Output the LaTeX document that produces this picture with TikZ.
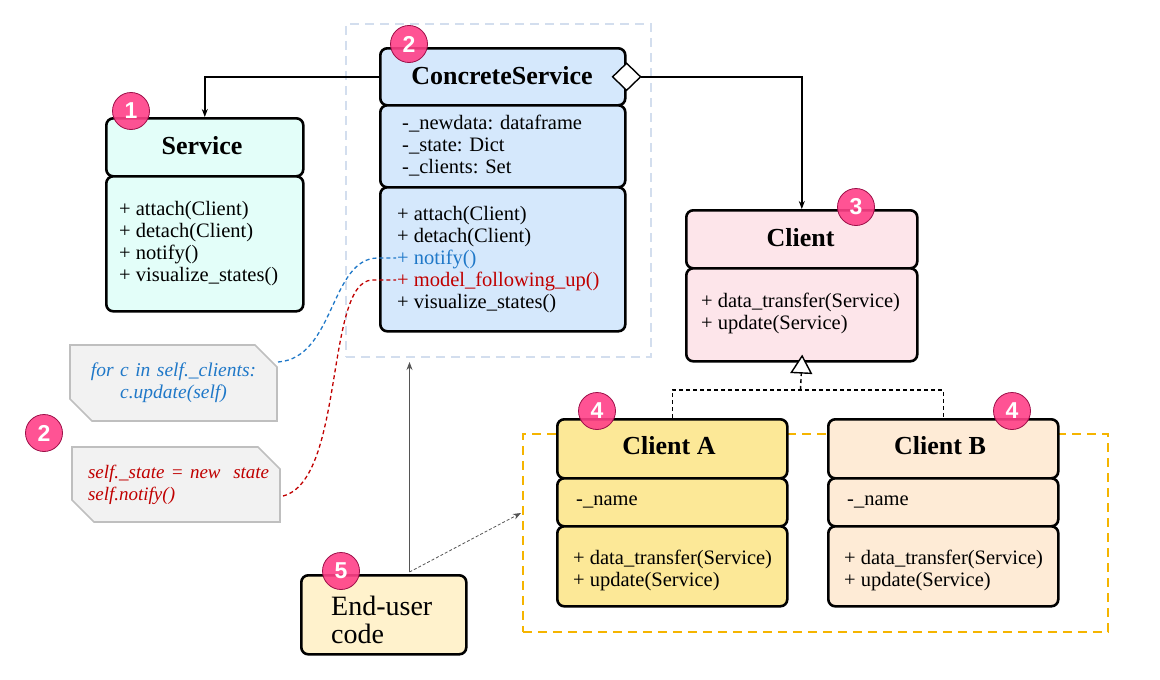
\documentclass[tikz,border=0pt]{standalone}
\usepackage{fontspec}
\setmainfont{Liberation Serif}
\newfontfamily\badgefont{Liberation Sans}
\usetikzlibrary{arrows.meta,shapes.misc,shapes.geometric,calc}

\definecolor{svcfill}{HTML}{E3FEF9}
\definecolor{csfill}{HTML}{D5E8FC}
\definecolor{clfill}{HTML}{FDE5EA}
\definecolor{cafill}{HTML}{FCE897}
\definecolor{cbfill}{HTML}{FEEBD6}
\definecolor{eufill}{HTML}{FFF2CC}
\definecolor{notefill}{HTML}{F2F2F2}
\definecolor{noteline}{HTML}{BFBFBF}
\definecolor{bluetext}{HTML}{1F78C8}
\definecolor{redtext}{HTML}{C00000}
\definecolor{grouplineA}{HTML}{D3DEEE}
\definecolor{grouplineB}{HTML}{F5B400}
\definecolor{badgefill}{HTML}{FF4088}
\definecolor{badgeline}{HTML}{9C0F48}
\definecolor{arrowgray}{HTML}{555555}

\tikzset{
  part/.style={draw=black, line width=2.6pt, rounded corners=7pt, inner sep=0pt, anchor=north west},
  titletext/.style={font=\fontsize{26}{30}\selectfont\bfseries, inner sep=0pt},
  membertext/.style={font=\fontsize{20.5}{22}\selectfont, align=left, anchor=west, inner sep=0pt},
  notebox/.style={chamfered rectangle, chamfered rectangle corners={north east, south west},
    chamfered rectangle xsep=11pt, chamfered rectangle ysep=11pt,
    draw=noteline, fill=notefill, line width=1.6pt, inner sep=0pt,
    font=\fontsize{19.5}{22}\selectfont\itshape},
  badge/.style={circle, fill=badgefill, fill opacity=0.9, text opacity=1, draw=badgeline, line width=0.8pt,
    minimum size=37pt, inner sep=0pt, text=white, font=\badgefont\bfseries\fontsize{23}{23}\selectfont},
  grouprect/.style={draw, line width=1.6pt, dash pattern=on 9pt off 6pt, anchor=north west, inner sep=0pt},
  conn/.style={draw=black, line width=1.4pt, -{Stealth[length=8pt, width=6pt]}},
  inh/.style={draw=black, line width=1.4pt, dash pattern=on 4pt off 3pt},
  thinarrow/.style={draw=arrowgray, line width=0.8pt, -{Stealth[length=8pt, width=6pt]}},
  notelink/.style={line width=1.3pt, dash pattern=on 4pt off 3pt}
}

\begin{document}
\begin{tikzpicture}[x=1pt, y=-1pt]
\useasboundingbox (0,0) rectangle (1160,680);

% group rectangles
\node[grouprect, draw=grouplineA, minimum width=305pt, minimum height=333pt] (csgroup) at (345,23) {};
\node[grouprect, draw=grouplineB, minimum width=585pt, minimum height=198pt] (clgroup) at (522,433) {};

% Service
\node[part, fill=svcfill, minimum width=197pt, minimum height=58pt] (svchead) at (105,117) {};
\node[part, fill=svcfill, minimum width=197pt, minimum height=135pt] (svcbody) at (105,175) {};
\node[titletext] (svctitle) at (202,146) {Service};
\node[membertext] (svcmeth) at (119,244) {+ attach(Client)\\+ detach(Client)\\+ notify()\\+ visualize\_states()};

% ConcreteService
\node[part, fill=csfill, minimum width=245pt, minimum height=57pt] (cshead) at (379,47) {};
\node[part, fill=csfill, minimum width=245pt, minimum height=82pt] (csattr) at (379,104) {};
\node[part, fill=csfill, minimum width=245pt, minimum height=144pt] (csmeth) at (379,186) {};
\node[titletext] (cstitle) at (502,76) {ConcreteService};
\node[membertext] (csattrtext) at (402,146) {-\_newdata: dataframe\\-\_state: Dict\\-\_clients: Set};
\node[membertext] (csmethtext) at (397,260) {+ attach(Client)\\+ detach(Client)\\{\color{bluetext}+ notify()}\\{\color{redtext}+ model\_following\_up()}\\+ visualize\_states()};

% Client
\node[part, fill=clfill, minimum width=231pt, minimum height=58pt] (clhead) at (685,209) {};
\node[part, fill=clfill, minimum width=231pt, minimum height=93pt] (clbody) at (685,267) {};
\node[titletext] (cltitle) at (800.5,238) {Client};
\node[membertext] (clmeth) at (701,313) {+ data\_transfer(Service)\\+ update(Service)};

% Client A
\node[part, fill=cafill, minimum width=230pt, minimum height=59pt] (cahead) at (556,418) {};
\node[part, fill=cafill, minimum width=230pt, minimum height=48pt] (caattr) at (556,477) {};
\node[part, fill=cafill, minimum width=230pt, minimum height=80pt] (cameth) at (556,525) {};
\node[titletext] (catitle) at (669,446) {Client A};
\node[membertext] (caattrtext) at (576,502) {-\_name};
\node[membertext] (camethtext) at (573,570) {+ data\_transfer(Service)\\+ update(Service)};

% Client B
\node[part, fill=cbfill, minimum width=230pt, minimum height=59pt] (cbhead) at (827,418) {};
\node[part, fill=cbfill, minimum width=230pt, minimum height=48pt] (cbattr) at (827,477) {};
\node[part, fill=cbfill, minimum width=230pt, minimum height=80pt] (cbmeth) at (827,525) {};
\node[titletext] (cbtitle) at (940,446) {Client B};
\node[membertext] (cbattrtext) at (847,502) {-\_name};
\node[membertext] (cbmethtext) at (844,570) {+ data\_transfer(Service)\\+ update(Service)};

% End-user code
\node[part, fill=eufill, minimum width=165pt, minimum height=79pt] (eu) at (300,574) {};
\node[membertext, font=\fontsize{28}{28}\selectfont] (eutext) at (331,620) {End-user\\code};

% Notes
\node[notebox, minimum height=76pt, text width=185pt, align=center, text=bluetext] (note1) at (173.5,383) {for c in self.\_clients:\\c.update(self)};
\node[notebox, minimum height=75pt, text width=186pt, align=left, text=redtext, font=\fontsize{19}{22}\selectfont\itshape] (note2) at (176,484.5) {\hspace*{5pt}\mbox{self.\_state = new\ \ state}\\\hspace*{5pt}\mbox{self.notify()}};

% connectors
\draw[conn] (cshead.west) -| (svchead.north);
\draw[conn, {Diamond[open, fill=white, length=30pt, width=29pt]}-{Stealth[length=8pt, width=6pt]}, shorten <=-15pt] (cshead.east) -| (clhead.north);

\coordinate (jn) at (800.5,390);
\draw[inh] (cahead.north) |- (jn) -| (cbhead.north);
\draw[inh, -{Triangle[open, fill=white, length=19pt, width=22pt, line width=1.4pt]}, shorten >=-8pt] (jn) -- (clbody.south);

\coordinate (eutop) at (409.5,572);
\coordinate (cstarget) at (409.5,362);
\coordinate (cltarget) at (521,513);
\draw[thinarrow] (eutop) -- (cstarget);
\draw[thinarrow, dash pattern=on 3pt off 2pt] (eutop) -- (cltarget);

\coordinate (n1start) at (278,362);
\coordinate (n1bend) at (378,258);
\coordinate (n1end) at (396,258);
\draw[notelink, draw=bluetext] (n1start) .. controls (335,358) and (330,258) .. (n1bend) -- (n1end);
\coordinate (n2start) at (283,496);
\coordinate (n2bend) at (372,280);
\coordinate (n2end) at (396,280);
\draw[notelink, draw=redtext] (n2start) .. controls (345,480) and (325,282) .. (n2bend) -- (n2end);

% badges
\node[badge] (b1) at (131,111) {1};
\node[badge] (b2) at (409,44) {2};
\node[badge] (b3) at (856,207) {3};
\node[badge] (b4a) at (597,411) {4};
\node[badge] (b4b) at (1012,411) {4};
\node[badge] (b2b) at (44,433) {2};
\node[badge] (b5) at (341,571) {5};
\end{tikzpicture}
\end{document}
